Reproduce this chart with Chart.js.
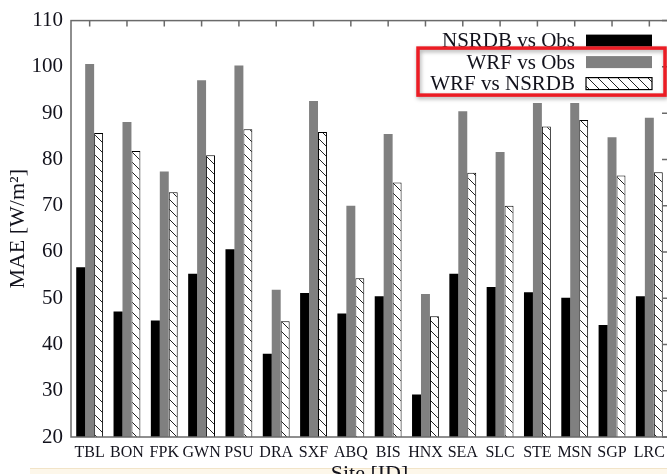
<!DOCTYPE html>
<html>
<head>
<meta charset="utf-8">
<script src="https://cdn.jsdelivr.net/npm/chart.js@4"></script>
<style>
html, body { margin: 0; padding: 0; width: 667px; height: 474px; overflow: hidden; background: #fff; }
#wrap { position: relative; width: 667px; height: 474px; overflow: hidden; }
#band { position: absolute; left: 30px; top: 468px; width: 650px; height: 10px; background: #fdf7ea; border-top: 1px solid #f2e4c8; }
#maeChart { position: absolute; left: 0; top: 0; }
</style>
</head>
<body>
<div id="wrap">
<div id="band"></div>
<canvas id="maeChart" width="672" height="490"></canvas>
</div>
<script>
const sites = ['TBL', 'BON', 'FPK', 'GWN', 'PSU', 'DRA', 'SXF', 'ABQ', 'BIS', 'HNX', 'SEA', 'SLC', 'STE', 'MSN', 'SGP', 'LRC'];
const nsrdbVsObs = [56.7, 47.1, 45.2, 55.3, 60.6, 38.0, 51.1, 46.7, 50.4, 29.2, 55.3, 52.4, 51.3, 50.1, 44.2, 50.4];
const wrfVsObs = [100.6, 88.1, 77.4, 97.1, 100.3, 51.8, 92.6, 70.0, 85.5, 50.9, 90.4, 81.6, 92.2, 92.2, 84.8, 89.0];
const wrfVsNsrdb = [85.7, 81.8, 72.9, 80.9, 86.5, 45.0, 85.9, 54.3, 75.0, 46.1, 77.1, 70.0, 87.1, 88.5, 76.5, 77.2];
const yMin = 20;
const yMax = 110;
const yStep = 10;

const serif = '"Liberation Serif", "Times New Roman", serif';
const textColor = '#12121c';

function makeHatch() {
    const c = document.createElement('canvas');
    c.width = 10;
    c.height = 10;
    const g = c.getContext('2d');
    g.fillStyle = '#fff';
    g.fillRect(0, 0, 10, 10);
    g.strokeStyle = '#222';
    g.lineWidth = 1;
    g.beginPath();
    g.moveTo(0, 0); g.lineTo(10, 10);
    g.moveTo(-1, 9); g.lineTo(1, 11);
    g.moveTo(9, -1); g.lineTo(11, 1);
    g.stroke();
    return g.createPattern(c, 'repeat');
}

const ctx = document.getElementById('maeChart').getContext('2d');
const hatch = makeHatch();

// plot frame with mirrored ticks (top and right)
const framePlugin = {
    id: 'frame',
    afterDatasetsDraw(chart) {
        const {ctx, chartArea: a, scales: {x, y}} = chart;
        ctx.save();
        ctx.strokeStyle = '#6a6a6a';
        ctx.lineWidth = 1.5;
        ctx.strokeRect(a.left, a.top, a.right - a.left, a.bottom - a.top);
        ctx.beginPath();
        x.ticks.forEach((t, i) => {
            const px = x.getPixelForTick(i);
            ctx.moveTo(px, a.top);
            ctx.lineTo(px, a.top + 6);
        });
        y.ticks.forEach((t, i) => {
            const py = y.getPixelForTick(i);
            ctx.moveTo(a.right, py);
            ctx.lineTo(a.right - 6, py);
        });
        ctx.stroke();
        ctx.restore();
    }
};

// gnuplot style key: text right aligned, sample to the right, plus red highlight
const keyPlugin = {
    id: 'key',
    afterDraw(chart) {
        const {ctx, chartArea: a} = chart;
        const textRight = a.right - 93;
        const rows = [];
        ctx.save();
        ctx.font = '21px ' + serif;
        ctx.textAlign = 'right';
        ctx.textBaseline = 'middle';
        chart.data.datasets.forEach((ds, i) => {
            const cy = a.top + 20 + i * 21.5;
            rows.push(cy);
            ctx.fillStyle = textColor;
            ctx.fillText(ds.label, textRight, cy + 1);
            ctx.fillStyle = ds.backgroundColor;
            ctx.fillRect(a.right - 82, cy - 6, 66, 12);
            if (ds.borderWidth) {
                ctx.strokeStyle = '#000';
                ctx.lineWidth = 1.2;
                ctx.strokeRect(a.right - 82, cy - 6, 66, 12);
            }
        });
        ctx.shadowColor = 'rgba(0,0,0,0.35)';
        ctx.shadowBlur = 4;
        ctx.shadowOffsetX = 1;
        ctx.shadowOffsetY = 2;
        ctx.strokeStyle = '#ec1c24';
        ctx.lineWidth = 3.5;
        ctx.strokeRect(textRight - 157, rows[1] - 14, 247, 47);
        ctx.restore();
    }
};

new Chart(ctx, {
    type: 'bar',
    data: {
        labels: sites,
        datasets: [{
            label: 'NSRDB vs Obs',
            data: nsrdbVsObs,
            backgroundColor: '#000000',
            borderWidth: 0
        }, {
            label: 'WRF vs Obs',
            data: wrfVsObs,
            backgroundColor: '#808080',
            borderWidth: 0
        }, {
            label: 'WRF vs NSRDB',
            data: wrfVsNsrdb,
            backgroundColor: hatch,
            borderColor: '#000000',
            borderWidth: 1
        }]
    },
    options: {
        responsive: false,
        animation: false,
        devicePixelRatio: 1,
        layout: {
            padding: {left: 0, top: 15, right: 4, bottom: 0}
        },
        datasets: {
            bar: {
                categoryPercentage: 0.72,
                barPercentage: 1
            }
        },
        scales: {
            x: {
                grid: {display: false, drawTicks: false},
                border: {display: false},
                ticks: {
                    color: textColor,
                    font: {family: serif, size: 16},
                    padding: 6,
                    maxRotation: 0,
                    autoSkip: false
                },
                title: {
                    display: true,
                    text: 'Site [ID]',
                    color: textColor,
                    font: {family: serif, size: 22},
                    padding: {top: 0, bottom: 3}
                },
                afterFit: (scale) => { scale.height = 53; }
            },
            y: {
                min: yMin,
                max: yMax,
                grid: {display: false, drawTicks: false},
                border: {display: false},
                ticks: {
                    stepSize: yStep,
                    color: textColor,
                    font: {family: serif, size: 21},
                    padding: 8
                },
                title: {
                    display: true,
                    text: 'MAE [W/m²]',
                    color: textColor,
                    font: {family: serif, size: 22},
                    padding: {top: 5, bottom: 0}
                },
                afterFit: (scale) => { scale.width = 71; }
            }
        },
        plugins: {
            legend: {display: false},
            tooltip: {enabled: false}
        }
    },
    plugins: [framePlugin, keyPlugin]
});
</script>
</body>
</html>
